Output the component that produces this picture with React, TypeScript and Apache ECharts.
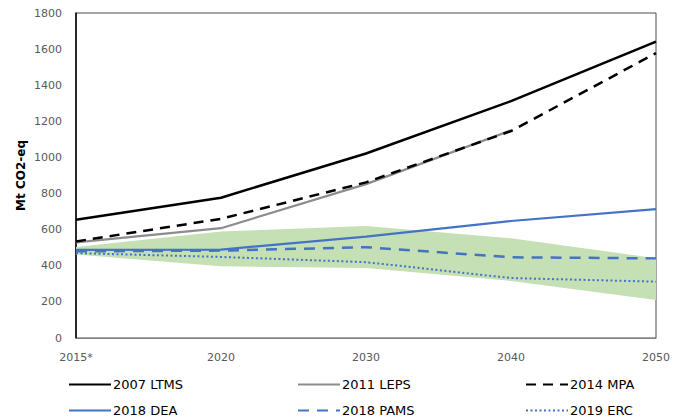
import React, { useEffect, useRef } from "react";
import * as echarts from "echarts";

// Emission trajectories, Mt CO2-eq
const years = ["2015*", "2020", "2030", "2040", "2050"];
const ltms2007 = [655, 777, 1022, 1312, 1641];
const leps2011 = [530, 608, 852, 1150, null];
const mpa2014 = [535, 660, 862, 1146, 1578];
const dea2018 = [488, 490, 561, 648, 714];
const pams2018 = [480, 484, 503, 447, 441];
const erc2019 = [470, 449, 420, 332, 312];

// Shaded range (lower and upper bounds)
const bandLower = [462, 397, 388, 316, 210];
const bandUpper = [504, 590, 620, 552, 442];

const yTicks = { min: 0, max: 1800, interval: 200 };

const legendCols = [68, 297, 525];
const legendRows = [378, 404];

export default function App() {
  const ref = useRef<HTMLDivElement>(null);

  useEffect(() => {
    if (!ref.current) return;
    const chart = echarts.init(ref.current, undefined, { renderer: "svg" });
    const bandRange = bandUpper.map((u, i) => u - bandLower[i]);
    const font = "DejaVu Sans";

    const legendNames = [
      ["2007 LTMS", "2011 LEPS", "2014 MPA"],
      ["2018 DEA", "2018 PAMS", "2019 ERC"],
    ];
    const legends: any[] = [];
    legendNames.forEach((row, r) =>
      row.forEach((name, c) => {
        legends.push({
          data: [name],
          left: legendCols[c],
          top: legendRows[r],
          padding: 0,
          itemWidth: 42,
          itemHeight: 14,
          itemGap: 0,
          selectedMode: false,
          // hide the marker dot so only the line sample shows
          itemStyle: { opacity: 0 },
          textStyle: { fontFamily: font, fontSize: 13, color: "#000", padding: [0, 0, 0, -3] },
        });
      })
    );

    const lineBase = { type: "line", symbol: "none", smooth: false, z: 3 };

    chart.setOption({
      animation: false,
      backgroundColor: "#fff",
      grid: {
        left: 76,
        right: 11,
        top: 13,
        bottom: 80,
        show: true,
        borderColor: "#4d4d4d",
        borderWidth: 1,
      },
      legend: legends,
      xAxis: {
        type: "category",
        data: years,
        boundaryGap: false,
        axisLine: { show: true, lineStyle: { color: "#808080", width: 1 } },
        axisTick: { show: false },
        axisLabel: {
          interval: 0,
          hideOverlap: false,
          margin: 14,
          fontFamily: font,
          fontSize: 11,
          color: "#595959",
        },
        splitLine: { show: false },
      },
      yAxis: {
        type: "value",
        min: yTicks.min,
        max: yTicks.max,
        interval: yTicks.interval,
        name: "Mt CO2-eq",
        nameLocation: "middle",
        nameGap: 49,
        nameMoveOverlap: false,
        nameTextStyle: { fontFamily: font, fontSize: 12, fontWeight: "bold", color: "#000" },
        axisLine: { show: true, lineStyle: { color: "#000", width: 1.5 } },
        axisTick: { show: false },
        axisLabel: {
          margin: 14,
          fontFamily: font,
          fontSize: 11,
          color: "#595959",
          formatter: (v: number) => String(v),
        },
        splitLine: { show: false },
      },
      series: [
        {
          name: "bandLower",
          type: "line",
          stack: "band",
          symbol: "none",
          data: bandLower,
          lineStyle: { width: 0, opacity: 0 },
          z: 1,
        },
        {
          name: "bandRange",
          type: "line",
          stack: "band",
          symbol: "none",
          data: bandRange,
          lineStyle: { width: 0, opacity: 0 },
          areaStyle: { color: "#c5e0b4", opacity: 1 },
          z: 1,
        },
        {
          ...lineBase,
          name: "2007 LTMS",
          data: ltms2007,
          color: "#000",
          lineStyle: { color: "#000", width: 2.5 },
        },
        {
          ...lineBase,
          name: "2011 LEPS",
          data: leps2011,
          color: "#8c8c8c",
          lineStyle: { color: "#8c8c8c", width: 2.25 },
        },
        {
          ...lineBase,
          name: "2014 MPA",
          data: mpa2014,
          color: "#000",
          lineStyle: { color: "#000", width: 2.5, type: [10, 7] },
        },
        {
          ...lineBase,
          name: "2018 DEA",
          data: dea2018,
          color: "#4472c4",
          lineStyle: { color: "#4472c4", width: 2.25 },
        },
        {
          ...lineBase,
          name: "2018 PAMS",
          data: pams2018,
          color: "#4472c4",
          lineStyle: { color: "#4472c4", width: 2.5, type: [11, 8] },
        },
        {
          ...lineBase,
          name: "2019 ERC",
          data: erc2019,
          color: "#4472c4",
          lineStyle: { color: "#4472c4", width: 2, type: [2, 2.5] },
        },
      ],
    });

    return () => chart.dispose();
  }, []);

  return (
    <div
      ref={ref}
      style={{ position: "fixed", left: 0, top: 0, width: 673, height: 418, background: "#fff" }}
    />
  );
}
